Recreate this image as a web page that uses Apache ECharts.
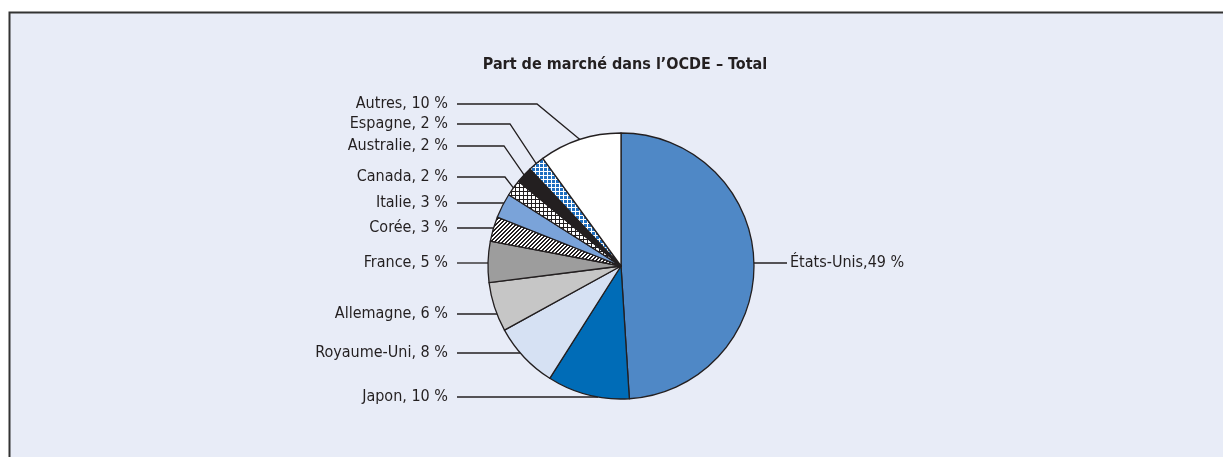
<!DOCTYPE html>
<html>
<head>
<meta charset="utf-8">
<script src="https://cdn.jsdelivr.net/npm/echarts@6/dist/echarts.min.js"></script>
<style>
  html, body { margin: 0; padding: 0; background: #fff; }
  #chart { width: 1223px; height: 457px; }
</style>
</head>
<body>
<div id="chart"></div>
<script>
// données : dans le sens horaire depuis midi
const pays = ['États-Unis', 'Japon', 'Royaume-Uni', 'Allemagne', 'France', 'Corée', 'Italie', 'Canada', 'Australie', 'Espagne', 'Autres'];
const parts = [49, 10, 8, 6, 5, 3, 3, 2, 2, 2, 10];
const etiquettes = ['États-Unis,49 %', 'Japon, 10 %', 'Royaume-Uni, 8 %', 'Allemagne, 6 %', 'France, 5 %', 'Corée, 3 %', 'Italie, 3 %', 'Canada, 2 %', 'Australie, 2 %', 'Espagne, 2 %', 'Autres, 10 %'];

// mise en page des étiquettes
const labelY = [263, 397, 353, 314, 263, 228, 203, 177, 146, 124, 104];
const coudeX = [null, null, null, null, null, null, null, 505, 504, 510, 537];

const CX = 621, CY = 266, R = 133;
const FONT = "'Liberation Sans Narrow', 'DejaVu Sans Condensed', 'Arial Narrow', sans-serif";

function motif(type) {
    const c = document.createElement('canvas');
    c.width = 4; c.height = 4;
    const g = c.getContext('2d');
    if (type === 'hachure') {
        g.fillStyle = '#fff'; g.fillRect(0, 0, 4, 4);
        g.fillStyle = '#231f20';
        for (let i = 0; i < 4; i++) {
            g.fillRect(i, 3 - i, 1, 1);
            g.fillRect(i, (4 - i) % 4, 1, 1);
        }
    } else if (type === 'damier') {
        g.fillStyle = '#231f20'; g.fillRect(0, 0, 4, 4);
        g.fillStyle = '#fff'; g.fillRect(0, 0, 3, 3);
    } else if (type === 'ecossais') {
        g.fillStyle = '#1f6fc0'; g.fillRect(0, 0, 4, 4);
        g.fillStyle = '#fff';
        g.fillRect(0, 3, 4, 1);
        g.fillRect(3, 0, 1, 4);
    }
    return { image: c, repeat: 'repeat' };
}

const couleurs = [
    '#4f88c6', '#006cb7', '#d6e1f3', '#c6c6c6', '#9d9d9d',
    motif('hachure'), '#7aa3d9', motif('damier'), '#231f20', motif('ecossais'), '#ffffff'
];

const total = parts.reduce((a, b) => a + b, 0);
const cumul = [];
parts.reduce((acc, v, i) => { cumul[i] = acc; return acc + v; }, 0);

const chart = echarts.init(document.getElementById('chart'), null, { renderer: 'canvas' });

chart.setOption({
    backgroundColor: '#ffffff',
    animation: false,
    graphic: [{
        type: 'rect',
        z: -10,
        shape: { x: 9.5, y: 12.5, width: 1400, height: 600 },
        style: { fill: '#e8ecf7', stroke: '#333333', lineWidth: 2 },
        silent: true
    }],
    title: {
        text: 'Part de marché dans l’OCDE – Total',
        left: 620,
        textAlign: 'center',
        top: 52,
        textStyle: { fontFamily: FONT, fontSize: 16, fontWeight: 'bold', color: '#231f20' }
    },
    series: [{
        type: 'pie',
        center: [CX, CY],
        radius: R,
        startAngle: 90,
        clockwise: true,
        avoidLabelOverlap: false,
        itemStyle: { borderColor: '#231f20', borderWidth: 1.3 },
        label: {
            show: true,
            position: 'outside',
            fontFamily: FONT,
            fontSize: 16,
            color: '#231f20',
            formatter: p => etiquettes[p.dataIndex]
        },
        labelLine: { show: true, lineStyle: { color: '#231f20', width: 1.3 } },
        emphasis: { disabled: true },
        labelLayout: function (p) {
            const i = p.dataIndex;
            const y = labelY[i];
            const droite = i === 0;
            let pts;
            if (coudeX[i] != null) {
                const a = 2 * Math.PI * (cumul[i] + parts[i] / 2) / total;
                const p0 = [CX + R * Math.sin(a), CY - R * Math.cos(a)];
                pts = [p0, [coudeX[i], y], [457, y]];
            } else {
                const dx = Math.sqrt(Math.max(0, R * R - (y - CY) * (y - CY)));
                const xe = droite ? CX + dx : CX - dx;
                const xf = droite ? 787 : 457;
                pts = [[xe, y], [xe, y], [xf, y]];
            }
            return {
                x: droite ? 790 : 448,
                y: y,
                align: droite ? 'left' : 'right',
                verticalAlign: 'middle',
                labelLinePoints: pts
            };
        },
        data: pays.map((n, i) => ({ name: n, value: parts[i], itemStyle: { color: couleurs[i] } }))
    }]
});
</script>
</body>
</html>
